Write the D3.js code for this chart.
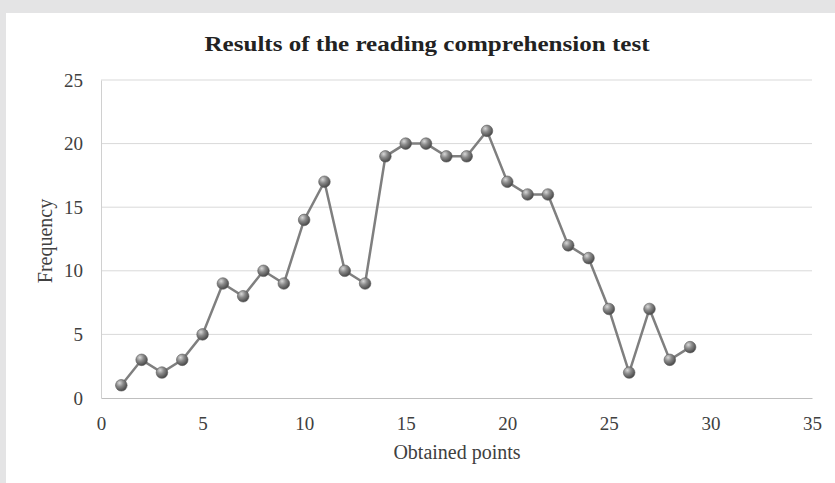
<!DOCTYPE html>
<html><head><meta charset="utf-8">
<script src="https://cdn.jsdelivr.net/npm/d3@7"></script>
<style>html,body{margin:0;padding:0;background:#e4e4e5;}svg{display:block;}</style>
</head><body>
<svg id="c" width="835" height="483"></svg>
<script>
const points = [1,2,3,4,5,6,7,8,9,10,11,12,13,14,15,16,17,18,19,20,21,22,23,24,25,26,27,28,29];
const frequency = [1,3,2,3,5,9,8,10,9,14,17,10,9,19,20,20,19,19,21,17,16,16,12,11,7,2,7,3,4];
const xTicks = [0,5,10,15,20,25,30,35];
const yTicks = [0,5,10,15,20,25];
const title = "Results of the reading comprehension test";
const xTitle = "Obtained points";
const yTitle = "Frequency";

const svg = d3.select("#c");
svg.append("rect").attr("x",6).attr("y",13).attr("width",835).attr("height",480).attr("fill","#fff");

const x = d3.scaleLinear().domain([0,35]).range([101,812]);
const y = d3.scaleLinear().domain([0,25]).range([398,80]);
const font = "'Liberation Serif','Times New Roman',serif";

const defs = svg.append("defs");
const g = defs.append("radialGradient").attr("id","ball").attr("cx","35%").attr("cy","30%").attr("r","70%");
g.append("stop").attr("offset","0%").attr("stop-color","#d8d8d8");
g.append("stop").attr("offset","45%").attr("stop-color","#8a8a8a");
g.append("stop").attr("offset","100%").attr("stop-color","#4a4a4a");

// gridlines
svg.append("g").selectAll("line").data(yTicks.filter(d=>d>0)).join("line")
  .attr("x1",x(0)).attr("x2",x(35)).attr("y1",d=>y(d)).attr("y2",d=>y(d))
  .attr("stroke","#d9d9d9").attr("stroke-width",1);

// axes
const xa = svg.append("g").attr("transform",`translate(0,${y(0)})`)
  .call(d3.axisBottom(x).tickValues(xTicks).tickSize(0).tickPadding(19));
xa.select(".domain").attr("stroke","#bfbfbf");
xa.selectAll("text").attr("font-family",font).attr("font-size",19).attr("fill","#404040");

const ya = svg.append("g").attr("transform",`translate(${x(0)},0)`)
  .call(d3.axisLeft(y).tickValues(yTicks).tickSize(0).tickPadding(18));
ya.select(".domain").attr("stroke","#d0d0d0");
ya.selectAll("text").attr("font-family",font).attr("font-size",19).attr("fill","#404040");

// line
const data = points.map((p,i)=>({p, f:frequency[i]}));
svg.append("path").datum(data)
  .attr("d", d3.line().x(d=>x(d.p)).y(d=>y(d.f)))
  .attr("fill","none").attr("stroke","#7f7f7f").attr("stroke-width",2.5);

svg.append("g").selectAll("circle").data(data).join("circle")
  .attr("cx",d=>x(d.p)).attr("cy",d=>y(d.f)).attr("r",5.8)
  .attr("fill","url(#ball)").attr("stroke","#5a5a5a").attr("stroke-width",0.6);

// titles
svg.append("text").attr("x",427).attr("y",51).attr("text-anchor","middle")
  .attr("font-family",font).attr("font-size",22).attr("font-weight","bold").attr("fill","#222")
  .attr("textLength",445).attr("lengthAdjust","spacingAndGlyphs").text(title);
svg.append("text").attr("x",457).attr("y",459).attr("text-anchor","middle")
  .attr("font-family",font).attr("font-size",20).attr("fill","#404040").text(xTitle);
svg.append("text").attr("transform","translate(52,241) rotate(-90)").attr("text-anchor","middle")
  .attr("font-family",font).attr("font-size",20).attr("fill","#404040").text(yTitle);
</script>
</body></html>
